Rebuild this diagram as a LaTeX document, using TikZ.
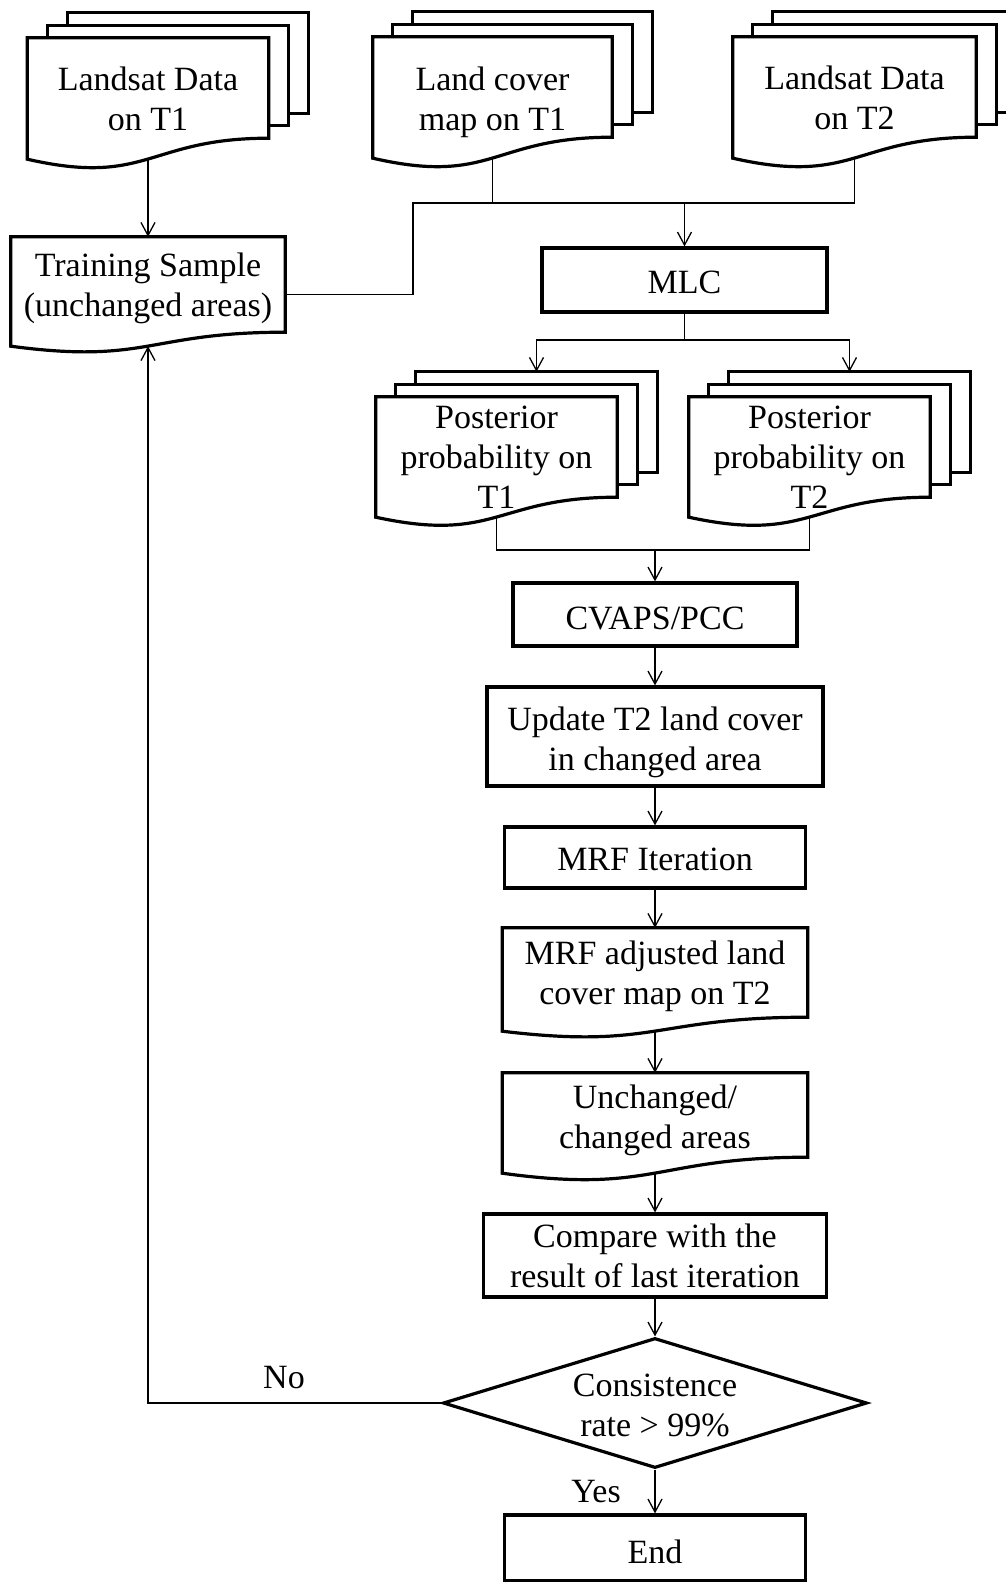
\documentclass[tikz,border=0pt]{standalone}
\usepackage{fontspec}
\setmainfont{Liberation Serif}
\usetikzlibrary{calc,arrows.meta,shapes.geometric}

\pgfdeclarelayer{background}
\pgfdeclarelayer{paper}
\pgfsetlayers{background,paper,main}

\newcommand{\docshape}[2]{%
	\begin{pgfonlayer}{paper}
	\draw [docline, fill=white] (#1.north west) -- (#1.north east) -- ([yshift=#2pt]#1.south east)
		.. controls ([yshift=#2pt]#1.south) and ([yshift=-1.314*#2pt]#1.south) .. (#1.south west) -- cycle;
	\end{pgfonlayer}}

\newcommand{\docstack}[2]{%
	\begin{pgfonlayer}{paper}
	\foreach \k in {2,1}
		\draw [docline, fill=white] ([shift={(20pt*\k,12.5pt*\k)}]#1.north west) rectangle ([shift={(20pt*\k,12.5pt*\k+#2pt)}]#1.south east);
	\end{pgfonlayer}
	\docshape{#1}{#2}
	\coordinate (#1-top) at ([shift={(40pt,25pt)}]#1.north);}

\begin{document}
\begin{tikzpicture}[x=1pt, y=-1pt,
		every node/.style = {font=\fontsize{34pt}{40pt}\selectfont},
		docline/.style = {line width=3.2pt},
		docnode/.style = {align=center, inner sep=0pt},
		box/.style = {draw, line width=3.2pt, fill=white, align=center, inner sep=0pt},
		lift/.style = {execute at end node={\rule[-#1pt]{0pt}{0pt}}},
		drop/.style = {execute at begin node={\rule{0pt}{#1pt}}},
		link/.style = {line width=1.3pt},
		flow/.style = {link, -{Straight Barb[length=13pt,width=14pt]}}]
		\useasboundingbox (0,0) rectangle (1005,1582);
		
		\node [docnode, minimum width=241pt, minimum height=121pt] (land1) at (148,98.5) {Landsat Data\\on T1};
		\node [docnode, drop=73, minimum width=239pt, minimum height=121pt] (lc1) at (492.5,97.5) {Land cover\\map on T1};
		\node [docnode, minimum width=243pt, minimum height=121pt] (land2) at (854.5,97.5) {Landsat Data\\on T2};
		\node [docnode, lift=13.5, minimum width=274pt, minimum height=109pt] (train) at (148,291.5) {Training Sample\\(unchanged areas)};
		\node [box, drop=26.5, minimum width=285pt, minimum height=64pt] (mlc) at (684.5,280) {MLC};
		\node [docnode, minimum width=241pt, minimum height=120pt] (post1) at (496.5,457) {Posterior\\probability on\\T1};
		\node [docnode, minimum width=241pt, minimum height=120pt] (post2) at (809.5,457) {Posterior\\probability on\\T2};
		\node [box, drop=30, minimum width=284pt, minimum height=63pt] (cvaps) at (655,614.5) {CVAPS/PCC};
		\node [box, drop=75, minimum width=336pt, minimum height=99pt] (update) at (655,736.5) {Update T2 land cover\\in changed area};
		\node [box, drop=27, minimum width=301pt, minimum height=61pt] (mrf) at (655,857.5) {MRF Iteration};
		\node [docnode, lift=13.5, minimum width=305pt, minimum height=103pt] (adj) at (655,979.5) {MRF adjusted land\\cover map on T2};
		\node [docnode, lift=13.5, minimum width=305pt, minimum height=100pt] (unch) at (655,1123) {Unchanged/\\changed areas};
		\node [box, minimum width=343pt, minimum height=83pt] (cmp) at (655,1255.5) {Compare with the\\result of last iteration};
		\node [box, drop=68, diamond, aspect=3.26, minimum width=424pt, minimum height=130pt] (cons) at (655,1403) {Consistence\\rate > 99\%};
		\node [box, drop=31, minimum width=301pt, minimum height=66pt] (endn) at (655,1548) {End};
		\node (no) at (284,1378) {No};
		\node (yes) at (596,1492) {Yes};
		
		\docstack{land1}{21}
		\docstack{lc1}{21}
		\docstack{land2}{21}
		\docshape{train}{14}
		\docstack{post1}{20}
		\docstack{post2}{20}
		\docshape{adj}{14}
		\docshape{unch}{16}
		
		\coordinate (bend) at (413,203);
		\coordinate (merge) at (684.5,203);
		\coordinate (split) at (684.5,340);
		\coordinate (join) at (655,550);
		
		\begin{pgfonlayer}{background}
		\draw [flow] (land1) -- (train);
		\draw [link] (lc1.south) |- (merge);
		\draw [link] (land2.south) |- (merge);
		\draw [link] ([yshift=-3pt]train.east) -| (bend) -- (merge);
		\draw [flow] (merge) -- (mlc);
		\draw [link] (mlc) -- (split);
		\draw [flow] (split) -| (post1-top);
		\draw [flow] (split) -| (post2-top);
		\draw [link] (post1.south) |- (join);
		\draw [link] (post2.south) |- (join);
		\draw [flow] (join) -- (cvaps);
		\draw [flow] (cvaps) -- (update);
		\draw [flow] (update) -- (mrf);
		\draw [flow] (mrf) -- (adj);
		\draw [flow] (adj) -- (unch);
		\draw [flow] (unch) -- (cmp);
		\draw [flow] (cmp) -- (cons);
		\draw [flow] (cons) -- (endn);
		\draw [flow] (cons.west) -| (train.south);
		\end{pgfonlayer}
		
		\end{tikzpicture}
\end{document}
